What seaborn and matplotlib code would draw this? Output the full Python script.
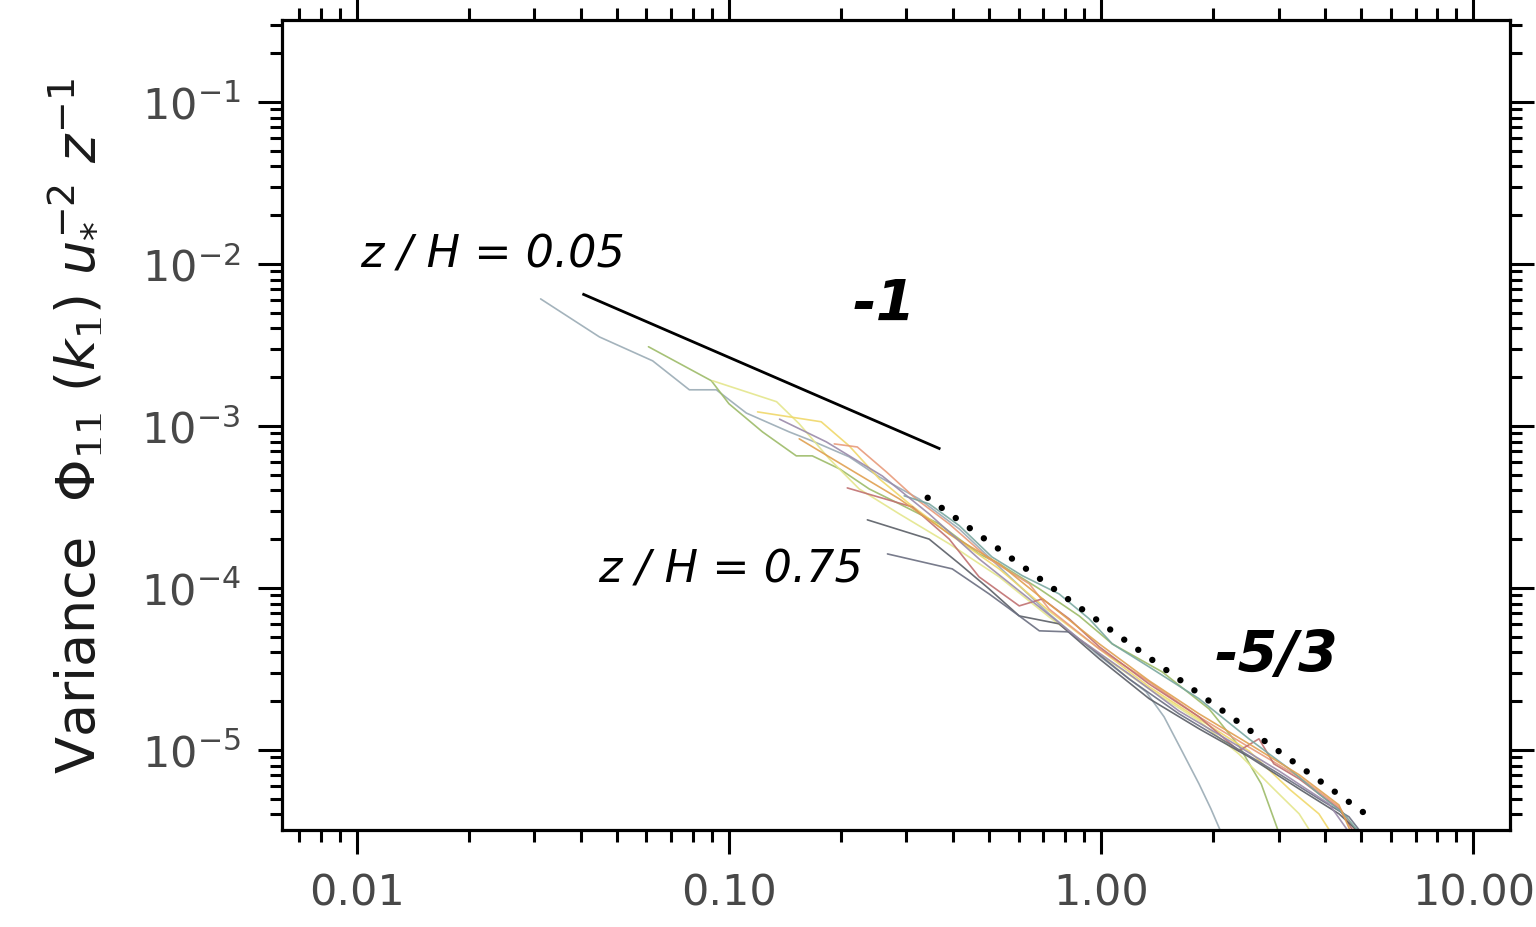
import numpy as np
import pandas as pd
import matplotlib
matplotlib.use("Agg")
import matplotlib.pyplot as plt
import seaborn as sns
from matplotlib.ticker import FixedLocator, FixedFormatter, LogLocator, NullFormatter

# ---------------- data ----------------
# normalised wavenumber k1*z and normalised spectrum for each height
k_s1 = [0.0312, 0.0449, 0.0624, 0.0783, 0.0925, 0.1114, 0.1452, 0.1675, 0.2104, 0.2535,
        0.3243, 0.4159, 0.5321, 0.7244, 0.9886, 1.321, 1.476, 1.648, 1.832, 1.972, 2.10]
phi_s1 = [6.08e-3, 3.54e-3, 2.52e-3, 1.67e-3, 1.67e-3, 1.20e-3, 9.18e-4, 8.07e-4, 6.44e-4, 4.84e-4,
          3.54e-4, 2.31e-4, 1.35e-4, 6.92e-5, 3.80e-5, 2.28e-5, 1.60e-5, 9.86e-6, 6.17e-6, 4.33e-6, 3.1e-6]

k_s2 = [0.0608, 0.0897, 0.100, 0.1231, 0.1517, 0.1675, 0.1982, 0.2382, 0.2871, 0.3673,
        0.4699, 0.5321, 0.6823, 0.8730, 1.0715, 1.459, 1.950, 2.344, 2.692, 3.0]
phi_s2 = [3.08e-3, 1.90e-3, 1.37e-3, 9.18e-4, 6.53e-4, 6.53e-4, 5.43e-4, 4.08e-4, 3.30e-4, 2.48e-4,
          1.62e-4, 1.41e-4, 9.86e-5, 6.71e-5, 4.51e-5, 3.03e-5, 1.79e-5, 1.06e-5, 6.17e-6, 3.1e-6]

k_s3 = [0.0903, 0.1343, 0.1545, 0.1862, 0.2239, 0.2871, 0.3908, 0.5321, 0.7244, 0.9886,
        1.346, 1.832, 2.344, 2.911, 3.404, 3.66]
phi_s3 = [1.90e-3, 1.41e-3, 1.03e-3, 6.25e-4, 4.08e-4, 2.86e-4, 1.87e-4, 1.17e-4, 6.62e-5, 3.92e-5,
          2.38e-5, 1.51e-5, 9.44e-6, 5.74e-6, 4.03e-6, 3.1e-6]

k_s4 = [0.1194, 0.1770, 0.2104, 0.2535, 0.3055, 0.3908, 0.5321, 0.7244, 0.9886, 1.346,
        1.832, 2.495, 3.199, 3.846, 4.14]
phi_s4 = [1.22e-3, 1.06e-3, 7.53e-4, 4.71e-4, 3.30e-4, 2.15e-4, 1.31e-4, 7.21e-5, 4.20e-5, 2.45e-5,
          1.55e-5, 9.86e-6, 5.74e-6, 4.03e-6, 3.1e-6]

k_s5 = [0.1919, 0.2213, 0.2649, 0.3184, 0.3908, 0.5000, 0.6412, 0.7244, 0.9886, 1.346,
        1.832, 2.495, 3.404, 4.355, 4.86]
phi_s5 = [7.74e-4, 7.41e-4, 5.20e-4, 3.54e-4, 2.48e-4, 1.51e-4, 1.06e-4, 7.41e-5, 4.20e-5, 2.63e-5,
          1.60e-5, 1.04e-5, 6.81e-6, 4.45e-6, 3.1e-6]

k_s6 = [0.2080, 0.3112, 0.3908, 0.4699, 0.6026, 0.6950, 0.8204, 0.9886, 1.346, 1.832,
        2.344, 2.655, 2.911, 3.404, 4.355, 4.78]
phi_s6 = [4.14e-4, 3.16e-4, 2.00e-4, 1.17e-4, 7.74e-5, 8.55e-5, 6.44e-5, 4.33e-5, 2.55e-5, 1.60e-5,
          9.86e-6, 1.17e-5, 8.20e-6, 6.62e-6, 4.33e-6, 3.1e-6]

k_s7 = [0.2355, 0.3451, 0.4159, 0.5000, 0.6026, 0.7709, 0.9886, 1.346, 1.832, 2.495,
        3.404, 4.355, 4.93]
phi_s7 = [2.63e-4, 2.00e-4, 1.41e-4, 9.86e-5, 6.71e-5, 6.00e-5, 3.65e-5, 2.07e-5, 1.35e-5, 9.06e-6,
          5.74e-6, 4.03e-6, 3.1e-6]

k_s8 = [0.2667, 0.3981, 0.5000, 0.6026, 0.6823, 0.8204, 0.9462, 1.1885, 1.618, 2.208,
        3.006, 3.846, 4.634, 4.99]
phi_s8 = [1.62e-4, 1.31e-4, 9.18e-5, 6.71e-5, 5.43e-5, 5.35e-5, 4.20e-5, 2.74e-5, 1.67e-5, 1.09e-5,
          7.11e-6, 4.99e-6, 3.86e-6, 3.1e-6]

k_s9 = [0.2958, 0.3451, 0.4159, 0.5093, 0.6138, 0.7709, 0.9290, 1.0715, 1.346, 1.832,
        2.495, 3.199, 3.846, 4.487, 4.93]
phi_s9 = [3.70e-4, 3.30e-4, 2.42e-4, 1.55e-4, 1.19e-4, 9.18e-5, 6.44e-5, 4.51e-5, 3.25e-5, 2.07e-5,
          1.17e-5, 7.64e-6, 5.35e-6, 4.03e-6, 3.1e-6]

k_s10 = [0.1545, 0.2104, 0.2871, 0.3908, 0.5321, 0.7244, 0.9886, 1.346, 1.832, 2.495,
         3.404, 4.355, 4.69]
phi_s10 = [8.32e-4, 5.43e-4, 3.54e-4, 2.15e-4, 1.41e-4, 7.96e-5, 4.51e-5, 2.67e-5, 1.67e-5, 1.09e-5,
           7.02e-6, 4.57e-6, 3.1e-6]

k_s11 = [0.1368, 0.1828, 0.2582, 0.3451, 0.4699, 0.6412, 0.8730, 1.1885, 1.618, 2.208,
         3.006, 4.09, 4.634]
phi_s11 = [1.10e-3, 7.96e-4, 4.91e-4, 2.86e-4, 1.51e-4, 8.55e-5, 4.84e-5, 2.94e-5, 1.74e-5, 1.14e-5,
           7.41e-6, 4.65e-6, 3.1e-6]

series_k = [k_s1, k_s2, k_s3, k_s4, k_s5, k_s6, k_s7, k_s8, k_s9, k_s10, k_s11]
series_phi = [phi_s1, phi_s2, phi_s3, phi_s4, phi_s5, phi_s6, phi_s7, phi_s8, phi_s9, phi_s10, phi_s11]
series_names = ["s1", "s2", "s3", "s4", "s5", "s6", "s7", "s8", "s9", "s10", "s11"]
series_colors = ["#9aabb5", "#9dbb68", "#e4e68c", "#f0d86a", "#e89a7a", "#c07070",
                 "#5a5e66", "#6a6e80", "#7aa8a0", "#e0a050", "#9a8aaa"]

# reference slopes
ref1_k = [0.0404, 0.370]      # -1 slope
ref1_phi = [6.53e-3, 7.2e-4]
ref53_k = [0.342, 5.40]       # -5/3 slope
ref53_phi = [3.60e-4, 3.70e-6]

x_ticks = [0.01, 0.1, 1.0, 10.0]
x_labels = ["0.01", "0.10", "1.00", "10.00"]
y_ticks = [1e-1, 1e-2, 1e-3, 1e-4, 1e-5]
y_labels = [r"$\mathdefault{10^{-1}}$", r"$\mathdefault{10^{-2}}$", r"$\mathdefault{10^{-3}}$",
            r"$\mathdefault{10^{-4}}$", r"$\mathdefault{10^{-5}}$"]

# ---------------- plotting ----------------
sns.set_theme(style="ticks")
plt.rcParams["font.family"] = ["DejaVu Sans"]
plt.rcParams["mathtext.fontset"] = "dejavusans"
plt.rcParams["text.color"] = "black"

fig = plt.figure(figsize=(15.36, 9.28), dpi=100)
ax = fig.add_axes([0.1836, 0.1045, 0.7995, 0.8728])
ax.set_xscale("log")
ax.set_yscale("log")

rows = []
for name, ks, ps in zip(series_names, series_k, series_phi):
    for k, p in zip(ks, ps):
        rows.append({"curve": name, "k": k, "phi": p})
df = pd.DataFrame(rows)

sns.lineplot(data=df, x="k", y="phi", hue="curve", hue_order=series_names,
             palette=dict(zip(series_names, series_colors)), estimator=None, sort=False,
             linewidth=1.2, alpha=0.9, legend=False, ax=ax)

ax.plot(ref1_k, ref1_phi, color="black", lw=2.0, solid_capstyle="butt")
ax.plot(ref53_k, ref53_phi, color="black", lw=4.6, linestyle=(0, (0.01, 2.7)),
        dash_capstyle="round")

ax.set_xlim(0.0063, 12.55)
ax.set_ylim(3.2e-6, 0.32)

ax.xaxis.set_major_locator(FixedLocator(x_ticks))
ax.xaxis.set_major_formatter(FixedFormatter(x_labels))
ax.xaxis.set_minor_locator(LogLocator(base=10, subs=np.arange(2, 10)))
ax.xaxis.set_minor_formatter(NullFormatter())
ax.yaxis.set_major_locator(FixedLocator(y_ticks))
ax.yaxis.set_major_formatter(FixedFormatter(y_labels))
ax.yaxis.set_minor_locator(LogLocator(base=10, subs=np.arange(2, 10)))
ax.yaxis.set_minor_formatter(NullFormatter())

for s in ax.spines.values():
    s.set_linewidth(2.3)
    s.set_color("black")
    s.set_visible(True)

ax.tick_params(which="both", direction="out", top=True, right=True, width=2.2, color="black")
ax.tick_params(which="major", length=17, labelsize=31, pad=13, labelcolor="#484848")
ax.tick_params(which="minor", length=8.5)
ax.grid(False)

ax.set_xlabel("")
ax.set_ylabel(r"Variance  $\mathit{\Phi}_{11}\ (k_1)\ u_{*}^{-2}\ z^{-1}$",
              fontsize=39, color="#1a1a1a", labelpad=28)

ax.text(0.0102, 1.15e-2, "z / H = 0.05", fontsize=32, style="italic", ha="left", va="center",
        color="black")
ax.text(0.0444, 1.31e-4, "z / H = 0.75", fontsize=32, style="italic", ha="left", va="center",
        color="black")
ax.text(0.2616, 5.66e-3, "-1", fontsize=41, style="italic", weight="bold", ha="center", va="center",
        color="black")
ax.text(2.95, 3.80e-5, "-5/3", fontsize=41, style="italic", weight="bold", ha="center", va="center",
        color="black")

fig.savefig("out.png", dpi=100, facecolor="white")
